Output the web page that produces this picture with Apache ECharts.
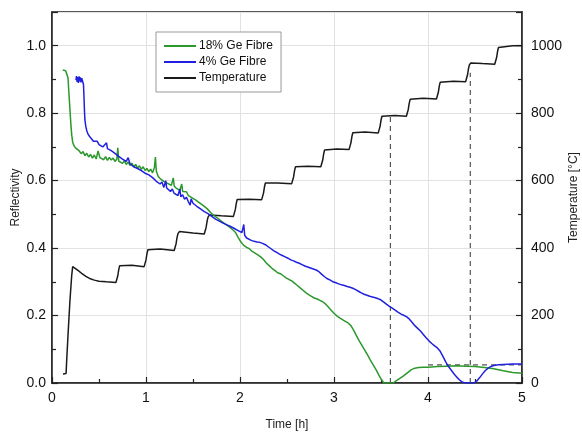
<!DOCTYPE html>
<html>
<head>
<meta charset="utf-8">
<script src="https://cdn.jsdelivr.net/npm/echarts@6/dist/echarts.min.js"></script>
<style>
html,body{margin:0;padding:0;background:#fff;}
#chart{width:582px;height:442px;}
</style>
</head>
<body>
<div id="chart"></div>
<script>
// Time [h] ticks
var xTicks = [0, 1, 2, 3, 4, 5];
var seriesNames = ['18% Ge Fibre', '4% Ge Fibre', 'Temperature'];

// Reflectivity of 18% Ge fibre: [time h, reflectivity]
var green18 = [
[0.115,0.928],[0.13,0.931],[0.145,0.926],[0.16,0.929],[0.17,0.905],[0.18,0.86],[0.19,0.815],[0.2,0.77],[0.21,0.735],[0.22,0.714],
[0.235,0.703],[0.25,0.697],[0.27,0.692],[0.29,0.688],[0.31,0.680],[0.33,0.686],[0.35,0.674],[0.37,0.681],[0.39,0.670],[0.41,0.678],
[0.43,0.667],[0.45,0.676],[0.47,0.664],[0.49,0.688],[0.51,0.668],[0.53,0.673],[0.55,0.662],[0.57,0.671],[0.59,0.660],[0.61,0.669],
[0.63,0.661],[0.65,0.667],[0.67,0.657],[0.69,0.664],[0.70,0.697],[0.71,0.658],[0.73,0.662],[0.75,0.651],[0.77,0.659],[0.79,0.648],
[0.81,0.655],[0.83,0.645],[0.85,0.652],[0.87,0.641],[0.89,0.648],[0.91,0.637],[0.93,0.644],[0.95,0.634],[0.97,0.641],[0.99,0.630],
[1.01,0.636],[1.03,0.627],[1.05,0.634],[1.07,0.623],[1.09,0.640],[1.10,0.670],[1.11,0.628],[1.13,0.612],[1.15,0.606],[1.17,0.610],
[1.19,0.598],[1.21,0.603],[1.23,0.592],[1.25,0.597],[1.27,0.586],[1.29,0.608],[1.30,0.584],[1.32,0.578],[1.34,0.582],[1.36,0.571],
[1.38,0.590],[1.39,0.568],[1.41,0.563],[1.43,0.567],[1.45,0.556],[1.47,0.560],[1.49,0.549],[1.51,0.553],[1.53,0.542],[1.55,0.546],
[1.57,0.534],[1.59,0.538],[1.61,0.526],[1.63,0.529],[1.65,0.517],[1.67,0.512],[1.69,0.505],[1.71,0.499],[1.74,0.493],[1.77,0.487],
[1.80,0.480],[1.83,0.474],[1.86,0.468],[1.89,0.462],[1.92,0.455],[1.95,0.447],[1.98,0.432],[2.01,0.418],[2.04,0.408],[2.07,0.402],
[2.10,0.398],[2.13,0.390],[2.16,0.385],[2.19,0.380],[2.22,0.374],[2.25,0.366],[2.28,0.356],[2.31,0.348],[2.34,0.340],[2.37,0.334],
[2.40,0.327],[2.43,0.324],[2.46,0.318],[2.49,0.312],[2.52,0.307],[2.55,0.303],[2.58,0.296],[2.61,0.289],[2.64,0.282],[2.67,0.275],
[2.70,0.268],[2.73,0.262],[2.76,0.257],[2.79,0.252],[2.82,0.249],[2.85,0.245],[2.88,0.241],[2.91,0.234],[2.94,0.225],[2.97,0.216],
[3.00,0.207],[3.03,0.199],[3.06,0.193],[3.09,0.188],[3.12,0.183],[3.15,0.178],[3.18,0.170],[3.21,0.156],[3.24,0.140],[3.27,0.124],
[3.30,0.110],[3.33,0.096],[3.36,0.082],[3.39,0.066],[3.42,0.052],[3.45,0.038],[3.48,0.022],[3.51,0.008],[3.53,0.0],[3.58,0.0],
[3.63,0.0],[3.66,0.006],[3.70,0.014],[3.74,0.021],[3.78,0.030],[3.82,0.039],[3.86,0.044],[3.90,0.046],[3.95,0.047],[4.00,0.047],
[4.1,0.049],[4.2,0.050],[4.3,0.051],[4.4,0.050],[4.5,0.049],[4.6,0.046],[4.7,0.042],[4.8,0.036],[4.9,0.031],[5.0,0.029]
];

// Reflectivity of 4% Ge fibre: [time h, reflectivity]
var blue4 = [
[0.255,0.898],[0.26,0.910],[0.267,0.893],[0.274,0.907],[0.281,0.890],[0.288,0.909],[0.295,0.894],[0.302,0.906],[0.309,0.891],[0.316,0.904],
[0.323,0.897],[0.33,0.902],[0.335,0.885],[0.34,0.850],[0.345,0.810],[0.35,0.780],[0.36,0.760],[0.37,0.748],[0.385,0.737],[0.40,0.731],
[0.42,0.724],[0.44,0.717],[0.46,0.713],[0.48,0.717],[0.50,0.707],[0.52,0.711],[0.54,0.700],[0.56,0.705],[0.58,0.712],[0.59,0.695],
[0.61,0.700],[0.63,0.689],[0.65,0.692],[0.67,0.681],[0.69,0.684],[0.71,0.672],[0.73,0.676],[0.75,0.664],[0.77,0.668],[0.79,0.657],
[0.81,0.668],[0.83,0.650],[0.85,0.655],[0.87,0.641],[0.89,0.646],[0.91,0.636],[0.93,0.641],[0.95,0.630],[0.97,0.634],[0.99,0.622],
[1.01,0.627],[1.03,0.617],[1.05,0.620],[1.07,0.609],[1.09,0.613],[1.11,0.598],[1.13,0.603],[1.15,0.590],[1.17,0.596],[1.19,0.580],
[1.21,0.600],[1.22,0.578],[1.24,0.583],[1.26,0.568],[1.28,0.575],[1.30,0.562],[1.32,0.567],[1.34,0.556],[1.36,0.575],[1.37,0.552],
[1.39,0.558],[1.41,0.545],[1.43,0.551],[1.45,0.538],[1.47,0.527],[1.48,0.546],[1.50,0.533],[1.52,0.536],[1.54,0.524],[1.56,0.528],
[1.58,0.516],[1.60,0.520],[1.62,0.508],[1.64,0.513],[1.66,0.502],[1.68,0.506],[1.70,0.494],[1.72,0.497],[1.74,0.486],[1.76,0.490],
[1.78,0.480],[1.80,0.484],[1.82,0.474],[1.84,0.478],[1.86,0.469],[1.88,0.472],[1.90,0.464],[1.92,0.467],[1.94,0.458],[1.96,0.461],
[1.98,0.452],[2.00,0.455],[2.02,0.446],[2.04,0.470],[2.05,0.438],[2.07,0.430],[2.09,0.426],[2.12,0.423],[2.15,0.420],[2.18,0.418],
[2.21,0.417],[2.24,0.414],[2.27,0.410],[2.30,0.404],[2.33,0.398],[2.36,0.392],[2.39,0.387],[2.42,0.382],[2.45,0.378],[2.48,0.374],
[2.51,0.370],[2.54,0.365],[2.57,0.362],[2.60,0.358],[2.63,0.355],[2.66,0.351],[2.69,0.347],[2.72,0.344],[2.75,0.341],[2.78,0.338],
[2.81,0.335],[2.84,0.330],[2.87,0.322],[2.90,0.315],[2.93,0.309],[2.96,0.305],[2.99,0.300],[3.02,0.297],[3.05,0.294],[3.08,0.291],
[3.11,0.289],[3.14,0.286],[3.17,0.284],[3.20,0.281],[3.23,0.277],[3.26,0.272],[3.29,0.267],[3.32,0.263],[3.35,0.260],[3.38,0.257],
[3.41,0.255],[3.44,0.253],[3.47,0.250],[3.50,0.246],[3.53,0.240],[3.56,0.233],[3.59,0.227],[3.62,0.222],[3.65,0.216],[3.68,0.210],
[3.71,0.205],[3.74,0.201],[3.77,0.197],[3.80,0.190],[3.83,0.180],[3.86,0.170],[3.89,0.162],[3.92,0.154],[3.95,0.144],[3.98,0.134],
[4.01,0.125],[4.04,0.117],[4.07,0.110],[4.10,0.104],[4.13,0.094],[4.16,0.078],[4.19,0.062],[4.22,0.048],[4.25,0.037],[4.28,0.026],
[4.31,0.016],[4.34,0.008],[4.37,0.002],[4.40,0.0],[4.45,0.0],[4.49,0.0],[4.52,0.006],[4.55,0.016],[4.58,0.027],[4.61,0.037],
[4.64,0.044],[4.67,0.049],[4.70,0.052],[4.75,0.054],[4.80,0.055],[4.9,0.056],[5.0,0.056]
];

// Temperature [°C]: [time h, temperature]
var temperature = [
[0.117,27],[0.15,28],[0.155,60],[0.17,140],[0.19,240],[0.21,320],[0.22,345],[0.24,342],[0.28,333],[0.32,324],
[0.36,316],[0.40,310],[0.45,305],[0.50,302],[0.58,300],[0.68,298],
[0.69,303],[0.70,318],[0.71,336],[0.72,348],[0.735,353],[0.85,349],[0.98,345],
[0.99,350],[1.00,365],[1.01,383],[1.02,395],[1.035,400],[1.15,397],[1.30,393],
[1.31,398],[1.32,413],[1.33,431],[1.34,443],[1.355,449],[1.50,445],[1.62,442],
[1.63,447],[1.64,462],[1.65,480],[1.66,492],[1.675,498],[1.80,496],[1.93,494],
[1.94,499],[1.95,514],[1.96,532],[1.97,544],[1.985,547],[2.10,545],[2.23,543],
[2.24,548],[2.25,563],[2.26,581],[2.27,593],[2.285,596],[2.40,593],[2.55,591],
[2.56,596],[2.57,611],[2.58,629],[2.59,641],[2.605,645],[2.72,643],[2.86,641],
[2.87,646],[2.88,661],[2.89,679],[2.90,691],[2.915,696],[3.03,694],[3.16,692],
[3.17,697],[3.18,712],[3.19,730],[3.20,742],[3.215,746],[3.33,744],[3.47,741],
[3.48,746],[3.49,761],[3.50,779],[3.51,791],[3.525,795],[3.65,793],[3.77,791],
[3.78,796],[3.79,811],[3.80,829],[3.81,841],[3.825,846],[3.95,844],[4.09,842],
[4.10,847],[4.11,862],[4.12,880],[4.13,892],[4.145,897],[4.27,895],[4.40,893],
[4.41,898],[4.42,913],[4.43,931],[4.44,943],[4.455,949],[4.58,947],[4.71,945],
[4.72,950],[4.73,965],[4.74,983],[4.75,995],[4.765,1000],[4.90,1000],[5.0,1000]
];

// Dashed guide lines (reflectivity units)
var guide1 = [[3.6, 0], [3.6, 0.795]];
var guide2 = [[4.45, 0], [4.45, 0.92]];
var guide3 = [[4.0, 0.054], [5.13, 0.054]];

var FONT = 'Liberation Sans, Arial, Helvetica, sans-serif';
var chart = echarts.init(document.getElementById('chart'), null, {renderer: 'canvas'});

var axisCommon = {
  axisLine: {show: true, lineStyle: {color: '#222', width: 1.5}},
  axisTick: {show: true, inside: true, length: 6, lineStyle: {color: '#222', width: 1.2}},
  minorTick: {show: true, splitNumber: 2, length: 4, lineStyle: {color: '#222', width: 1.2}},
  nameMoveOverlap: false,
  nameTextStyle: {fontFamily: FONT, fontSize: 12, color: '#222'}
};

var option = {
  animation: false,
  backgroundColor: '#fff',
  grid: {left: 52, right: 60, top: 12, bottom: 59, show: true, borderColor: '#222', borderWidth: 1.5,
    backgroundColor: 'transparent', containLabel: false, outerBoundsMode: 'none'},
  legend: {
    data: seriesNames,
    orient: 'vertical',
    left: 156, top: 32,
    icon: 'rect',
    itemWidth: 32, itemHeight: 2, itemGap: 4,
    padding: [8, 8, 8, 8],
    borderColor: '#999', borderWidth: 1,
    backgroundColor: '#fff',
    textStyle: {fontFamily: FONT, fontSize: 12, color: '#111', padding: [0, 0, 0, -2]}
  },
  xAxis: Object.assign({}, axisCommon, {
    type: 'value', min: xTicks[0], max: xTicks[xTicks.length - 1], interval: 1,
    name: 'Time [h]', nameLocation: 'middle', nameGap: 36,
    axisLabel: {fontFamily: FONT, fontSize: 14, color: '#111', margin: 8},
    splitLine: {show: true, lineStyle: {color: '#e2e2e2', width: 1}}
  }),
  yAxis: [
    Object.assign({}, axisCommon, {
      type: 'value', min: 0, max: 1.1, interval: 0.2, position: 'left',
      name: 'Reflectivity', nameLocation: 'middle', nameGap: 30, nameRotate: 90,
      axisLabel: {fontFamily: FONT, fontSize: 14, color: '#111', margin: 6, showMaxLabel: false,
        formatter: function (v) { return v.toFixed(1); }},
      splitLine: {show: true, lineStyle: {color: '#e2e2e2', width: 1}}
    }),
    Object.assign({}, axisCommon, {
      type: 'value', min: 0, max: 1100, interval: 200, position: 'right',
      name: 'Temperature [°C]', nameLocation: 'middle', nameGap: 46, nameRotate: 90,
      axisLabel: {fontFamily: FONT, fontSize: 14, color: '#111', margin: 9, showMaxLabel: false,
        formatter: function (v) { return String(Math.round(v)); }},
      splitLine: {show: false}
    })
  ],
  series: [
    {name: seriesNames[0], type: 'line', data: green18, showSymbol: false, symbol: 'none',
     lineStyle: {color: '#2b982b', width: 1.5}, itemStyle: {color: '#2b982b'}, z: 3},
    {name: seriesNames[1], type: 'line', data: blue4, showSymbol: false, symbol: 'none',
     lineStyle: {color: '#2020e0', width: 1.5}, itemStyle: {color: '#2020e0'}, z: 4},
    {name: seriesNames[2], type: 'line', yAxisIndex: 1, data: temperature, showSymbol: false, symbol: 'none',
     lineStyle: {color: '#1a1a1a', width: 1.5}, itemStyle: {color: '#1a1a1a'}, z: 2},
    {name: 'guide1', type: 'line', data: guide1, showSymbol: false, symbol: 'none', silent: true,
     lineStyle: {color: '#555', width: 1.2, type: [5, 4]}, z: 1},
    {name: 'guide2', type: 'line', data: guide2, showSymbol: false, symbol: 'none', silent: true,
     lineStyle: {color: '#555', width: 1.2, type: [5, 4]}, z: 1},
    {name: 'guide3', type: 'line', data: guide3, showSymbol: false, symbol: 'none', silent: true, clip: false,
     lineStyle: {color: '#555', width: 1.2, type: [5, 4]}, z: 1}
  ]
};
chart.setOption(option);
</script>
</body>
</html>
